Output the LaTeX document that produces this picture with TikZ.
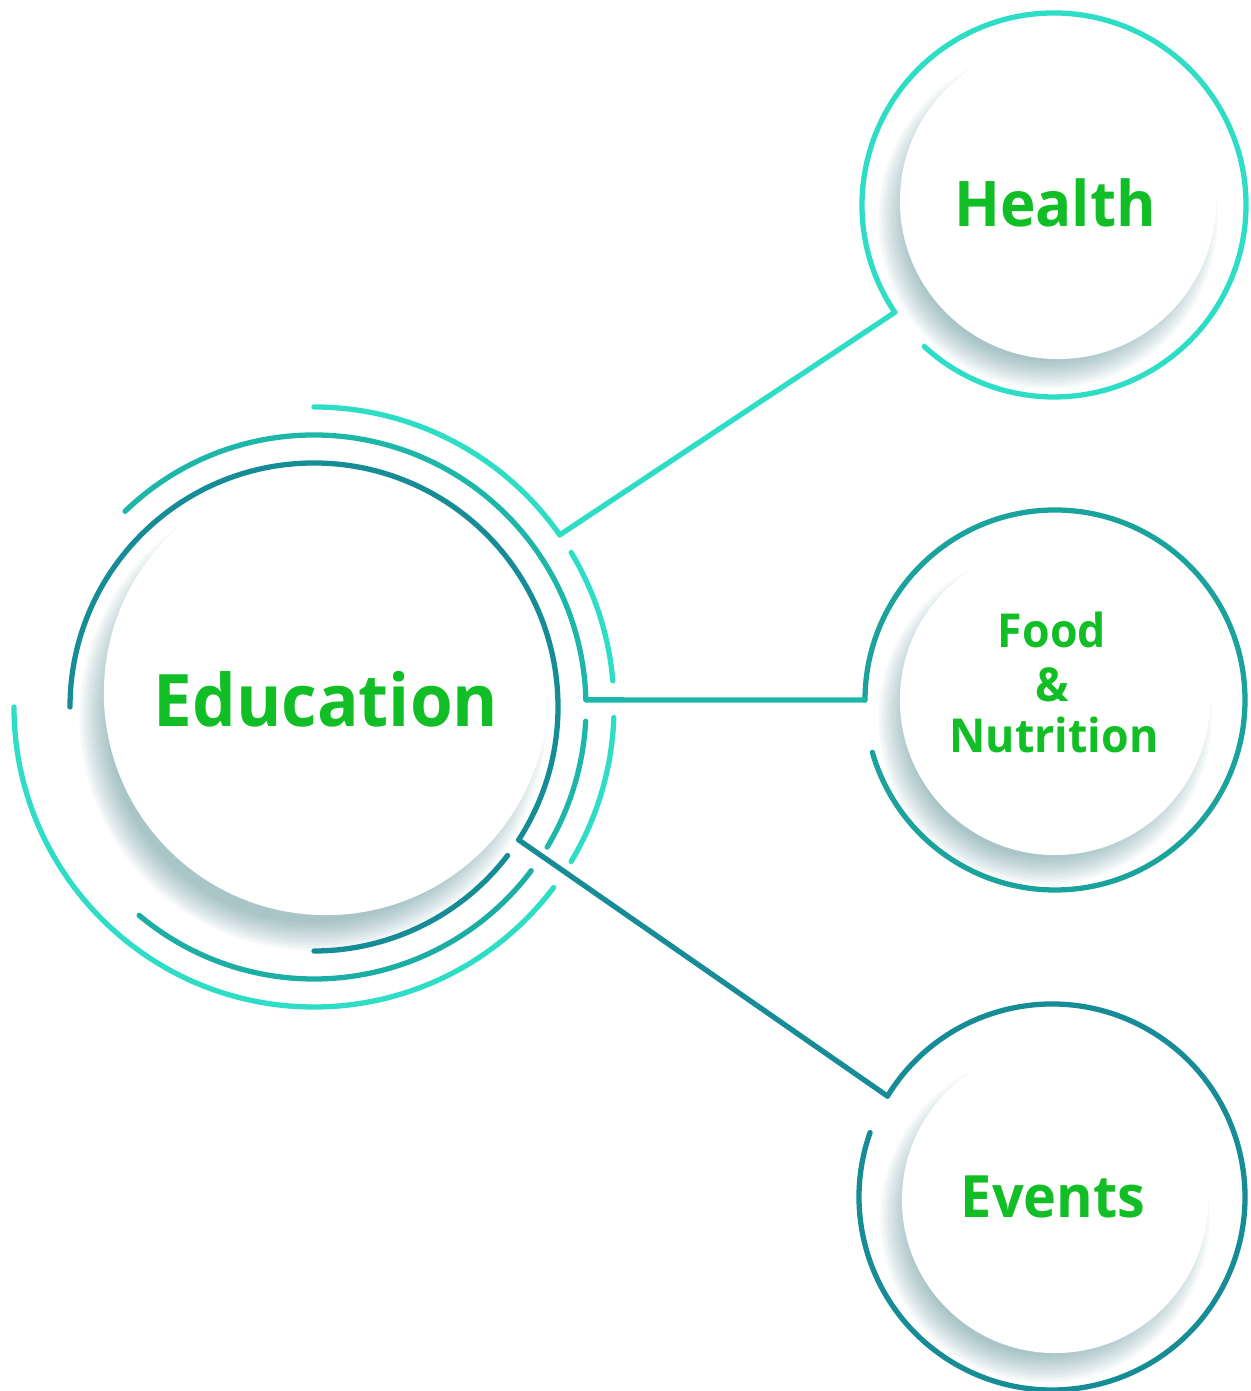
\documentclass[tikz,border=0pt]{standalone}
\usepackage{fontspec}
\setmainfont{Open Sans}
\newfontfamily\lblfont{Open Sans}[FakeStretch=0.955]
\usetikzlibrary{calc}
\definecolor{bright}{RGB}{46,221,198}
\definecolor{midteal}{RGB}{28,183,168}
\definecolor{darkteal}{RGB}{22,140,150}
\definecolor{foodteal}{RGB}{26,162,156}
\definecolor{txtgreen}{RGB}{18,190,38}
\definecolor{shadowcol}{RGB}{45,115,122}
\tikzset{
  ring/.style={line width=1.5pt, line cap=round, line join=round},
  disc/.style={circle, fill=white, draw=none, inner sep=0pt},
  lbl/.style={text=txtgreen, inner sep=0pt, anchor=base},
}
\begin{document}
\begin{tikzpicture}[x=0.01cm,y=0.01cm]
\useasboundingbox (0,0) rectangle (1250,1391);
\fill[white] (0,0) rectangle (1250,1391);

% centres
\coordinate (C) at (314,684);
\coordinate (H) at (1054,1186);
\coordinate (F) at (1055,691);
\coordinate (E) at (1052,194);

% soft shadows (towards lower left)
\foreach \cx/\cy/\r/\dx/\dy in {326/698/222/-13/-24, 1058/1190/158/-10/-18, 1055/691/155/-10/-18, 1055/191/153/-10/-18}{
  \foreach \k in {0,...,11}{
    \fill[shadowcol, opacity=0.04] (\cx+\dx,\cy+\dy) circle[radius=\r-16+2.5*\k];
  }
}

% discs
\node[disc, minimum size=4.44cm] (edu) at (326,698) {};
\node[disc, minimum size=3.16cm] (hea) at (1058,1190) {};
\node[disc, minimum size=3.10cm] (foo) at (1055,691) {};
\node[disc, minimum size=3.06cm] (eve) at (1055,191) {};

% connector end points
\coordinate (eHs) at ($(C)+(35:300)$);
\coordinate (hIn) at ($(H)+(214:192)$);
\coordinate (eFs) at ($(C)+(1.5:272)$);
\coordinate (fIn) at ($(F)+(180:190)$);
\coordinate (eEs) at ($(C)+(-33:244)$);
\coordinate (evIn) at ($(E)+(148.5:193)$);

% Education rings
\draw[ring, darkteal] ($(C)+(180:244)$) arc[start angle=180, end angle=-33, radius=244];
\draw[ring, darkteal] ($(C)+(-37.5:244)$) arc[start angle=-37.5, end angle=-90, radius=244];
\draw[ring, midteal] ($(C)+(134:272)$) arc[start angle=134, end angle=1.5, radius=272];
\draw[ring, midteal] ($(C)+(-3:272)$) arc[start angle=-3, end angle=-31, radius=272];
\draw[ring, midteal!80!darkteal] ($(C)+(-37:272)$) arc[start angle=-37, end angle=-130, radius=272];
\draw[ring, bright] ($(C)+(90:300)$) arc[start angle=90, end angle=35, radius=300];
\draw[ring, bright] ($(C)+(31:300)$) arc[start angle=31, end angle=5, radius=300];
\draw[ring, bright] ($(C)+(-2:300)$) arc[start angle=-2, end angle=-31, radius=300];
\draw[ring, bright] ($(C)+(180:300)$) arc[start angle=180, end angle=323, radius=300];

% satellite rings
\draw[ring, bright] (hIn) arc[start angle=214, end angle=-132.5, radius=192];
\draw[ring, foodteal] (fIn) arc[start angle=180, end angle=-164, radius=190];
\draw[ring, darkteal] (evIn) arc[start angle=148.5, end angle=-199.5, radius=193];

% connectors
\draw[ring, bright] (eHs) -- (hIn);
\draw[ring, midteal] (eFs) -- (fIn);
\draw[ring, darkteal] (eEs) -- (evIn);

% labels
\node[lbl, font=\lblfont\fontsize{20.6}{24}\selectfont\bfseries] (eduT) at (326,664) {Education};
\node[lbl, font=\lblfont\fontsize{17.9}{21}\selectfont\bfseries] (heaT) at (1055,1164) {Health};
\node[lbl, font=\lblfont\fontsize{13.3}{15}\selectfont\bfseries] (fooT) at (1052,743) {Food};
\node[lbl, font=\lblfont\fontsize{13.3}{15}\selectfont\bfseries] (ampT) at (1052,689) {\&};
\node[lbl, font=\lblfont\fontsize{13.3}{15}\selectfont\bfseries] (nutT) at (1054,638) {Nutrition};
\node[lbl, font=\lblfont\fontsize{16.6}{20}\selectfont\bfseries] (eveT) at (1053,173) {Events};
\end{tikzpicture}
\end{document}
